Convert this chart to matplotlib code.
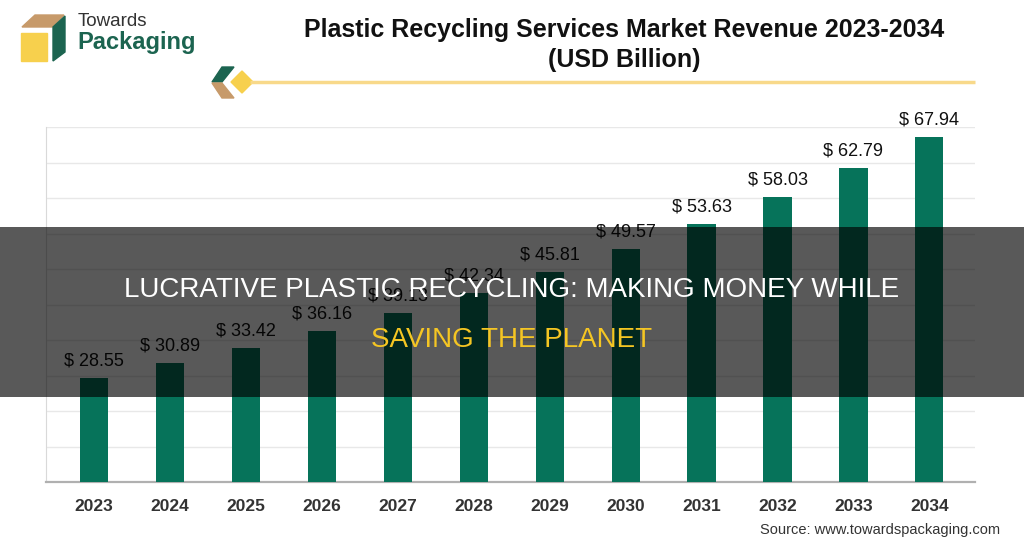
import numpy as np
import matplotlib
matplotlib.use("Agg")
import matplotlib.pyplot as plt
from matplotlib.patches import Polygon, Rectangle

# data
years = ["2023", "2024", "2025", "2026", "2027", "2028",
         "2029", "2030", "2031", "2032", "2033", "2034"]
revenue = [28.55, 30.89, 33.42, 36.16, 39.13, 42.34,
           45.81, 49.57, 53.63, 58.03, 62.79, 67.94]

bar_color = "#06735a"
dark_green = "#1c6450"
tan = "#c79a6a"
yellow = "#f7d04d"

W, H = 1024, 548
fig = plt.figure(figsize=(W / 100, H / 100), dpi=100)
fig.patch.set_facecolor("white")

# main bar axes
ax = fig.add_axes([46 / W, 1 - 482 / H, (975 - 46) / W, (482 - 127) / H])
x = np.arange(len(years))
ax.bar(x, revenue, width=0.37, color=bar_color, zorder=3)
ylo, yhi = 11.5, 69.5
ax.set_ylim(ylo, yhi)
ax.set_xlim(-0.63, len(years) - 0.4)
ax.set_yticks(np.linspace(ylo, yhi, 11))
ax.set_yticklabels([])
ax.tick_params(axis="y", length=0)
ax.grid(axis="y", color="#e8e8e8", linewidth=1, zorder=0)
ax.set_xticks(x)
ax.set_xticklabels(years, fontsize=12.5, fontweight="bold", color="#333333",
                   family="Liberation Sans")
ax.tick_params(axis="x", length=0, pad=12)
for s in ["top", "right"]:
    ax.spines[s].set_visible(False)
ax.spines["left"].set_color("#d9d9d9")
ax.spines["bottom"].set_color("#b0b0b0")
ax.spines["bottom"].set_linewidth(1.6)

for xi, v in zip(x, revenue):
    ax.annotate(f"$ {v:.2f}", (xi, v), xytext=(0, 9), textcoords="offset points",
                ha="center", va="baseline", fontsize=13, color="#111111",
                family="Liberation Sans", zorder=4)

# overlay / decoration layer in pixel coordinates
deco = fig.add_axes([0, 0, 1, 1], zorder=10)
deco.set_xlim(0, W)
deco.set_ylim(H, 0)
deco.axis("off")
deco.patch.set_alpha(0)

# logo
deco.add_patch(Polygon([(22, 27), (35, 15), (64, 15), (52, 27)], color=tan))
deco.add_patch(Rectangle((21, 33), 26, 28, color=yellow))
deco.add_patch(Polygon([(53, 27), (65, 16), (65, 52), (53, 61)], color=dark_green))
deco.text(78, 21, "Towards", fontsize=13.5, color="#333333", va="center",
          family="Liberation Sans")
deco.text(77, 43, "Packaging", fontsize=17, color=dark_green, va="center",
          fontweight="bold", family="Liberation Sans")

# title
deco.text(624, 30, "Plastic Recycling Services Market Revenue 2023-2034",
          fontsize=18, fontweight="bold", ha="center", va="center",
          color="#111111", family="Liberation Sans")
deco.text(624, 60, "(USD Billion)", fontsize=18, fontweight="bold",
          ha="center", va="center", color="#111111", family="Liberation Sans")

# divider with chevron icon
deco.plot([250, 975], [82, 82], color="#f8d98a", lw=2.5, solid_capstyle="butt")
deco.add_patch(Polygon([(222, 67), (234, 67), (222, 82), (212, 82)], color=dark_green))
deco.add_patch(Polygon([(212, 83), (222, 83), (234, 98), (222, 98)], color=tan))
deco.add_patch(Polygon([(231, 82), (242, 71), (253, 82), (242, 93)], color=yellow))

# source
deco.text(1000, 530, "Source: www.towardspackaging.com", fontsize=10.5,
          ha="right", va="center", color="#333333", family="Liberation Sans")

# dark band with headline
deco.add_patch(Rectangle((0, 227), W, 170, color="black", alpha=0.65, lw=0))
deco.text(512, 290, "LUCRATIVE PLASTIC RECYCLING: MAKING MONEY WHILE",
          fontsize=20, color="white", ha="center", va="center",
          family="Liberation Sans")
deco.text(512, 340, "SAVING THE PLANET", fontsize=20, color="#f5c623",
          ha="center", va="center", family="Liberation Sans")

fig.savefig("out.png", dpi=100)
